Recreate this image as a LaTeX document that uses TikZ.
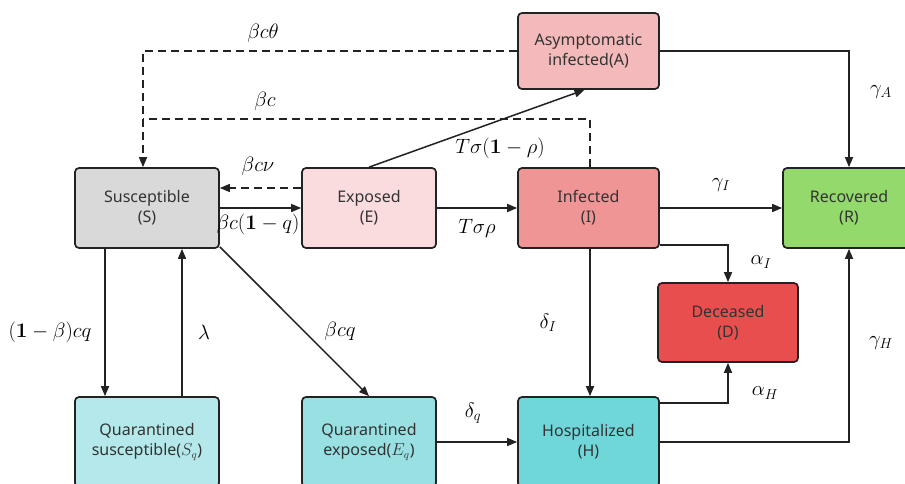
\documentclass[tikz,border=0pt]{standalone}
\usepackage[no-math]{fontspec}
\setmainfont{Noto Sans}
\usetikzlibrary{arrows.meta}
\definecolor{cA}{HTML}{F4B9BA}
\definecolor{cS}{HTML}{D9D9D9}
\definecolor{cE}{HTML}{FADBDE}
\definecolor{cI}{HTML}{F09596}
\definecolor{cR}{HTML}{93D96C}
\definecolor{cD}{HTML}{E84E4E}
\definecolor{cSq}{HTML}{B5E8EA}
\definecolor{cEq}{HTML}{98E0E2}
\definecolor{cH}{HTML}{6FD7DA}
\definecolor{ln}{HTML}{222222}
\definecolor{tx}{HTML}{333333}
\begin{document}
\begin{tikzpicture}[x=1pt,y=-1pt,
  box/.style={draw=ln, line width=1.7pt, rounded corners=4pt, align=center,
    font=\fontsize{16}{20}\selectfont, text=tx, inner sep=0pt},
  flow/.style={-{Triangle[length=10pt,width=8pt]}, line width=1.5pt, draw=ln},
  dflow/.style={flow, dash pattern=on 8pt off 5pt},
  dline/.style={line width=1.5pt, draw=ln, dash pattern=on 8pt off 5pt},
  lab/.style={font=\fontsize{19.5}{22}\selectfont, inner sep=0pt}]
\useasboundingbox (0,0) rectangle (905,484);
\fill[white] (0,0) rectangle (905,484);
\clip (0,0) rectangle (905,484);
% nodes
\node[box, fill=cA, minimum width=141, minimum height=76] (A) at (588.5,51) {Asymptomatic\\infected(A)};
\node[box, fill=cS, minimum width=144, minimum height=80] (S) at (147,208) {Susceptible\\(S)};
\node[box, fill=cE, minimum width=134, minimum height=80] (E) at (369,208) {Exposed\\(E)};
\node[box, fill=cI, minimum width=141, minimum height=80] (I) at (588.5,208) {Infected\\(I)};
\node[box, fill=cR, minimum width=132, minimum height=80] (R) at (849,208) {Recovered\\(R)};
\node[box, fill=cD, minimum width=140, minimum height=79] (D) at (728,322.5) {Deceased\\(D)};
\node[box, fill=cSq, minimum width=144, minimum height=90] (Sq) at (147,442) {Quarantined\\susceptible($S_q$)};
\node[box, fill=cEq, minimum width=134, minimum height=90] (Eq) at (369,442) {Quarantined\\exposed($E_q$)};
\node[box, fill=cH, minimum width=141, minimum height=90] (H) at (588.5,442) {Hospitalized\\(H)};
\coordinate (j) at (S.north |- 0,119);
% connectors
\draw[dflow] (A.west) -| ([xshift=-4pt]S.north);
\draw[dline] ([xshift=1.5pt]I.north) |- ([xshift=-4pt]j);
\draw[flow] (A.east) -| (R.north);
\draw[flow] (E.north) -- ([xshift=-4pt]A.south);
\draw[dflow] ([yshift=20pt]E.west) -- ([yshift=20pt]S.east);
\draw[flow] (S.east) -- (E.west);
\draw[flow] (E.east) -- (I.west);
\draw[flow] (I.east) -- (R.west);
\draw[flow] ([yshift=-37pt]I.east) -| (D.north);
\draw[flow] ([xshift=1.5pt]I.south) -- ([xshift=1.5pt]H.north);
\draw[flow] ([xshift=-42pt]S.south) -- ([xshift=-42pt]Sq.north);
\draw[flow] ([xshift=35pt]Sq.north) -- ([xshift=35pt]S.south);
\draw[flow] ([yshift=2pt]S.south east) -- (Eq.north);
\draw[flow] (Eq.east) -- (H.west);
\draw[flow] ([yshift=39pt]H.east) -| (D.south);
\draw[flow] (H.east) -| (R.south);
% labels
\node[lab] (l1) at (263,33) {$\beta c\theta$};
\node[lab] (l2) at (265,101) {$\beta c$};
\node[lab] (l3) at (500,148) {$T\sigma\mathbf{(1}-\rho\mathbf{)}$};
\node[lab] (l4) at (258,166) {$\beta c\nu$};
\node[lab] (l5) at (258,224) {$\beta c\mathbf{(1}-q\mathbf{)}$};
\node[lab] (l6) at (477,228) {$T\sigma\rho$};
\node[lab] (l7) at (721,185) {$\gamma_I$};
\node[lab] (l8) at (881,92) {$\gamma_A$};
\node[lab] (l9) at (761,262) {$\alpha_I$};
\node[lab] (l10) at (548,323) {$\delta_I$};
\node[lab] (l11) at (50,332) {$\mathbf{(1}-\beta\mathbf{)}cq$};
\node[lab] (l12) at (204,332) {$\lambda$};
\node[lab] (l13) at (340,331) {$\beta cq$};
\node[lab] (l14) at (473,413) {$\delta_q$};
\node[lab] (l15) at (765,393) {$\alpha_H$};
\node[lab] (l16) at (881,343) {$\gamma_H$};
\end{tikzpicture}
\end{document}
